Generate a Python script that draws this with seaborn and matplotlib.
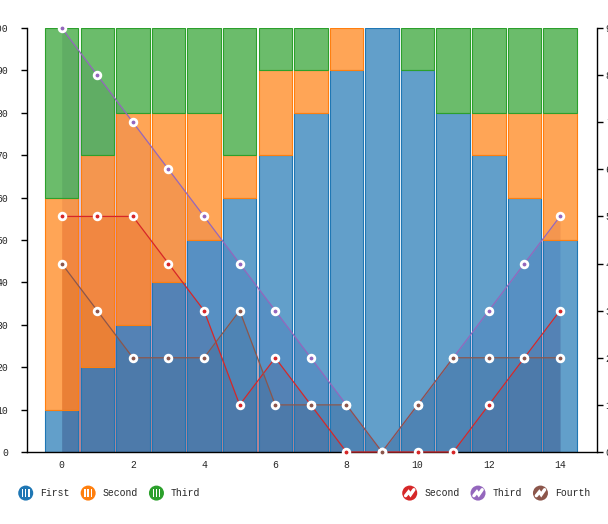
import pandas as pd
import matplotlib
matplotlib.use('Agg')
from matplotlib import pyplot as plt
from matplotlib.patches import Circle, Rectangle, Patch
from matplotlib.lines import Line2D
from matplotlib.legend_handler import HandlerBase
from matplotlib.colors import to_rgba
import seaborn as sns


# data
x = list(range(15))
bar_first = [10, 20, 30, 40, 50, 60, 70, 80, 90, 100, 90, 80, 70, 60, 50]
bar_second = [50, 50, 50, 40, 30, 10, 20, 10, 10, 0, 0, 0, 10, 20, 30]
bar_third = [40, 30, 20, 20, 20, 30, 10, 10, 0, 0, 10, 20, 20, 20, 20]

line_second = [5, 5, 5, 4, 3, 1, 2, 1, 0, 0, 0, 0, 1, 2, 3]
line_third = [9, 8, 7, 6, 5, 4, 3, 2, 1, 0, 1, 2, 3, 4, 5]
line_fourth = [4, 3, 2, 2, 2, 3, 1, 1, 1, 0, 1, 2, 2, 2, 2]

bar_names = ['First', 'Second', 'Third']
line_names = ['Second', 'Third', 'Fourth']
bar_colors = {'First': '#1f77b4', 'Second': '#ff7f0e', 'Third': '#2ca02c'}
line_colors = {'Second': '#d62728', 'Third': '#9467bd', 'Fourth': '#8c564b'}

df_bar = pd.DataFrame({
    'x': x * 3,
    'value': bar_first + bar_second + bar_third,
    'series': [n for n in bar_names for _ in x],
})
df_line = pd.DataFrame({
    'x': x * 3,
    'value': line_second + line_third + line_fourth,
    'series': [n for n in line_names for _ in x],
})

sns.set_style('white')
plt.rcParams['font.family'] = ['Liberation Mono', 'DejaVu Sans']
plt.rcParams['font.size'] = 7

fig = plt.figure(figsize=(6.08, 5.24), dpi=100)
ax = fig.add_axes([27 / 608, 72 / 524, 570 / 608, 424 / 524])
ax_fill = ax.twinx()
ax_line = ax.twinx()
ax_fill.set_zorder(0)
ax.set_zorder(1)
ax_line.set_zorder(2)
ax.patch.set_visible(False)
ax_fill.patch.set_visible(False)
ax_line.patch.set_visible(False)

# areas under the lines (behind the bars)
for name, vals in zip(line_names, [line_second, line_third, line_fourth]):
    ax_fill.fill_between(x, vals, color=line_colors[name], alpha=0.33, lw=0)
ax_fill.set_ylim(0, 9)
ax_fill.axis('off')

# stacked bars
sns.histplot(data=df_bar, x='x', weights='value', hue='series',
             hue_order=['Third', 'Second', 'First'], multiple='stack',
             discrete=True, shrink=0.94, palette=bar_colors, alpha=0.7,
             linewidth=0.8, legend=False, ax=ax)
for p in ax.patches:
    fc = p.get_facecolor()
    p.set_edgecolor(to_rgba(fc, 1.0))
    if p.get_height() == 0:
        p.set_linewidth(0)

# lines
sns.lineplot(data=df_line, x='x', y='value', hue='series', hue_order=line_names,
             palette=line_colors, marker='o', markersize=4.8, markeredgewidth=2,
             markeredgecolor='white', linewidth=0.9, legend=False,
             clip_on=False, ax=ax_line)

xmin, xmax = -0.975, 15.04
ax.set_xlim(xmin, xmax)
ax.set_ylim(0, 100)
ax_line.set_ylim(0, 9)
ax_fill.set_xlim(xmin, xmax)
ax_line.set_xlim(xmin, xmax)

ax.set_xlabel('')
ax.set_ylabel('')
ax_line.set_xlabel('')
ax_line.set_ylabel('')

ax.set_xticks(range(0, 15, 2))
ax.set_xticks([xmin, xmax], minor=True)
ax.set_yticks(range(0, 101, 10))
ax_line.set_yticks(range(0, 10))

ax.tick_params(axis='x', which='major', length=0, pad=6, labelsize=7)
ax.tick_params(axis='x', which='minor', length=4.3, width=1, color='black')
ax.tick_params(axis='y', length=4.3, width=1, pad=9.5, labelsize=7, left=True, color='black')
ax_line.tick_params(axis='y', length=4.3, width=1, pad=2, labelsize=7, right=True, color='black')

for s in ['top', 'right']:
    ax.spines[s].set_visible(False)
for s in ['top', 'left', 'bottom']:
    ax_line.spines[s].set_visible(False)
for s in ['left', 'bottom']:
    ax.spines[s].set_color('black')
    ax.spines[s].set_linewidth(1)
ax_line.spines['right'].set_color('black')
ax_line.spines['right'].set_linewidth(1)


# legend icons
class IconHandler(HandlerBase):
    def __init__(self, kind):
        super().__init__()
        self.kind = kind

    def create_artists(self, legend, orig_handle, xdescent, ydescent,
                       width, height, fontsize, trans):
        c = orig_handle.get_facecolor()
        r = 0.5 * min(width, height)
        cx = -xdescent + width / 2
        cy = -ydescent + height / 2
        arts = [Circle((cx, cy), r, facecolor=c, edgecolor='none', transform=trans)]
        if self.kind == 'bar':
            for dx in (-0.42, 0, 0.42):
                arts.append(Rectangle((cx + dx * r - 0.09 * r, cy - 0.55 * r), 0.18 * r, 1.1 * r,
                                      facecolor='white', edgecolor='none', transform=trans))
        else:
            arts.append(Line2D([cx - 0.55 * r, cx - 0.15 * r, cx + 0.1 * r, cx + 0.55 * r],
                               [cy - 0.35 * r, cy + 0.15 * r, cy - 0.2 * r, cy + 0.45 * r],
                               color='white', lw=2.4, solid_joinstyle='miter', transform=trans))
        return arts


bar_handles = [Patch(facecolor=bar_colors[n]) for n in bar_names]
line_handles = [Patch(facecolor=line_colors[n]) for n in line_names]

leg_kw = dict(frameon=False, borderpad=0, borderaxespad=0, handlelength=2.0,
              handleheight=2.0, handletextpad=0.5, columnspacing=0.9, fontsize=7)
fig.legend(bar_handles, bar_names, loc='center left', bbox_to_anchor=(16 / 608, 0.059),
           ncol=3, handler_map={h: IconHandler('bar') for h in bar_handles}, **leg_kw)
fig.legend(line_handles, line_names, loc='center left', bbox_to_anchor=(400 / 608, 0.059),
           ncol=3, handler_map={h: IconHandler('line') for h in line_handles}, **leg_kw)

plt.savefig('out.png', dpi=100)
